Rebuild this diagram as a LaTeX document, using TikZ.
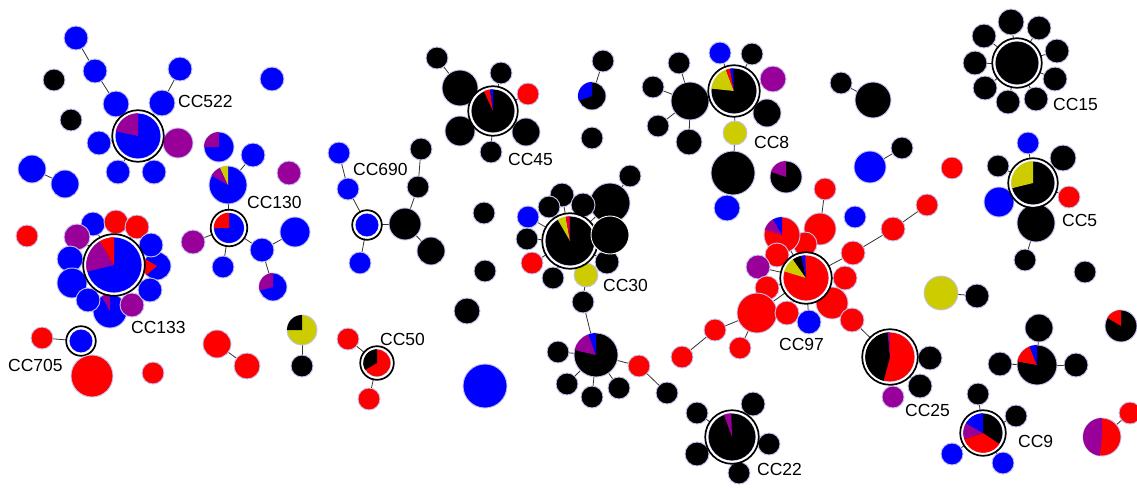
\documentclass[tikz,border=0pt]{standalone}
\usepackage{fontspec}
\setmainfont{Liberation Sans}
\pgfdeclarelayer{bg}
\pgfdeclarelayer{paper}
\pgfsetlayers{paper,bg,main}
\definecolor{cB}{HTML}{0000FF}
\definecolor{cR}{HTML}{FF0000}
\definecolor{cK}{HTML}{000000}
\definecolor{cP}{HTML}{990099}
\definecolor{cY}{HTML}{CCCC00}
\definecolor{halo}{HTML}{C4C4F2}
\tikzset{nd/.style={circle,draw=halo,line width=0.9pt,inner sep=0pt,outer sep=0pt},
 edge/.style={line width=0.8pt,black!80},
 lbl/.style={anchor=west,inner sep=0pt,font=\fontsize{17.5}{20}\selectfont}}
\newcommand\nd[5]{\node[nd,fill=#5,minimum size={2*#4pt}] (#1) at (#2,#3) {};}
\newcommand\pslice[5]{\fill[#5] (#1.center) -- ++({#3-90}:#2) arc[start angle={#3-90},end angle={#4-90},radius=#2] -- cycle;}
\newcommand\hubring[2]{\draw[white,line width=2pt] (#1.center) circle[radius={#2+1}];
 \draw[black,line width=1.7pt] (#1.center) circle[radius={#2+2.8}];}
\begin{document}
\begin{tikzpicture}[x=1pt,y=-1pt]
\begin{pgfonlayer}{paper}
\fill[white] (0,0) rectangle (1137,487);
\end{pgfonlayer}
\useasboundingbox (0,0) rectangle (1137,487);
% CC522
\nd{a1}{76}{38}{12}{cB}
\nd{a2}{95}{71}{12}{cB}
\nd{a3}{54}{80}{11}{cK}
\nd{a4}{180}{69}{12}{cB}
\nd{a5}{272}{79}{12}{cB}
\nd{a6}{116}{104}{13}{cB}
\nd{a7}{162}{103}{13}{cB}
\nd{a8}{71}{120}{11}{cK}
\nd{a9}{178}{143}{15}{cP}
\nd{a10}{99}{143}{12}{cB}
\nd{a11}{118}{172}{12}{cB}
\nd{a12}{154}{172}{12}{cB}
\nd{a13}{32}{169}{14}{cB}
\nd{a14}{65}{184}{14}{cB}
\nd{h522}{138}{136}{23}{cB}
\pslice{h522}{23}{282}{360}{cP}
\hubring{h522}{23}
\node[lbl] (L522) at (178,101) {CC522};
% CC130
\nd{b1}{219}{147}{15}{cB}
\pslice{b1}{15}{270}{360}{cP}
\nd{b2}{253}{155}{12}{cB}
\nd{b3}{228}{185}{19}{cB}
\pslice{b3}{19}{300}{335}{cP}
\pslice{b3}{19}{335}{360}{cY}
\nd{b4}{289}{173}{12}{cP}
\nd{h130}{229}{228}{15.5}{cB}
\pslice{h130}{15.5}{270}{360}{cR}
\hubring{h130}{15.5}
\nd{b5}{193}{242}{12}{cP}
\nd{b6}{223}{267}{11}{cB}
\nd{b7}{262}{250}{12}{cB}
\nd{b8}{295}{232}{15}{cB}
\nd{b9}{273}{287}{14}{cB}
\pslice{b9}{14}{255}{360}{cP}
\node[lbl] (L130) at (247,202) {CC130};
% CC133
\nd{c0}{27}{236}{11}{cR}
\nd{c1}{93}{224}{12}{cB}
\nd{c2}{116}{222}{12}{cR}
\nd{c3}{137}{227}{12}{cR}
\nd{c4}{77}{237}{13}{cP}
\nd{c5}{157}{266}{14}{cB}
\pslice{c5}{14}{230}{300}{cR}
\nd{c6}{151}{245}{12}{cB}
\nd{c7}{70}{259}{13}{cB}
\nd{c8}{72}{283}{15}{cB}
\nd{c9}{110}{311}{17}{cB}
\pslice{c9}{17}{330}{360}{cP}
\nd{c10}{88}{300}{12}{cB}
\nd{c11}{132}{305}{12}{cP}
\nd{c12}{150}{290}{12}{cB}
\nd{h133}{114}{265}{28}{cB}
\pslice{h133}{28}{256}{329}{cP}
\pslice{h133}{28}{329}{360}{cR}
\hubring{h133}{28}
\node[lbl] (L133) at (131,327) {CC133};
% CC705 and others
\nd{d1}{42}{338}{11}{cR}
\nd{h705}{81}{341}{12}{cB}
\hubring{h705}{12}
\node[lbl] (L705) at (8,365) {CC705};
\nd{d2}{92}{376}{21}{cR}
\nd{d3}{153}{373}{11}{cR}
\nd{e1}{217}{344}{14}{cR}
\nd{e2}{247}{366}{13}{cR}
\nd{e3}{302}{330}{15}{cY}
\pslice{e3}{15}{270}{360}{cK}
\nd{e4}{302}{366}{11}{cK}
% CC690
\nd{f1}{339}{153}{11}{cB}
\nd{f2}{348}{189}{11}{cB}
\nd{h690}{367}{225}{12}{cB}
\hubring{h690}{12}
\nd{f3}{421}{149}{11}{cK}
\nd{f4}{418}{187}{11}{cK}
\nd{f5}{405}{224}{16}{cK}
\nd{f6}{431}{251}{14}{cK}
\nd{f7}{360}{263}{11}{cB}
\node[lbl] (L690) at (353,169) {CC690};
\nd{g1}{484}{213}{11}{cK}
\nd{g2}{485}{271}{11}{cK}
\nd{g3}{467}{311}{13}{cK}
\nd{g4}{485}{386}{22}{cB}
% CC50
\nd{i1}{348}{339}{11}{cR}
\nd{h50}{377}{363}{14}{cR}
\pslice{h50}{14}{240}{360}{cK}
\hubring{h50}{14}
\nd{i2}{369}{399}{11}{cR}
\node[lbl] (L50) at (380,339) {CC50};
% CC45
\nd{j1}{437}{58}{11}{cK}
\nd{j2}{460}{88}{18}{cK}
\nd{j3}{501}{73}{11}{cK}
\nd{j4}{528}{94}{11}{cR}
\nd{j5}{460}{131}{15}{cK}
\nd{j6}{526}{132}{14}{cK}
\nd{j7}{491}{152}{11}{cK}
\nd{h45}{493}{111}{22}{cK}
\pslice{h45}{22}{335}{352}{cR}
\pslice{h45}{22}{352}{360}{cB}
\hubring{h45}{22}
\node[lbl] (L45) at (508,159) {CC45};
\nd{k1}{603}{61}{11}{cK}
\nd{k2}{592}{96}{14}{cK}
\pslice{k2}{14}{250}{360}{cB}
\nd{k3}{592}{138}{11}{cK}
% CC30
\nd{l1}{630}{176}{11}{cK}
\nd{l2}{610}{203}{20}{cK}
\nd{l3}{562}{195}{12}{cK}
\nd{l4}{583}{205}{12}{cK}
\nd{l5}{549}{207}{11}{cK}
\nd{l6}{528}{217}{11}{cB}
\nd{l7}{527}{239}{11}{cK}
\nd{l8}{532}{263}{11}{cR}
\nd{l9}{553}{278}{11}{cK}
\nd{l10}{607}{262}{12}{cK}
\nd{l11}{586}{275}{12}{cY}
\nd{h30}{570}{241}{25}{cK}
\pslice{h30}{25}{330}{350}{cY}
\pslice{h30}{25}{350}{357}{cR}
\pslice{h30}{25}{357}{360}{cP}
\hubring{h30}{25}
\node[nd,fill=cK,draw=white,minimum size=38pt] (l12) at (610,235) {};
\node[lbl] (L30) at (603,285) {CC30};
\nd{m1}{583}{302}{11}{cK}
\nd{m0}{596}{355}{22}{cK}
\pslice{m0}{22}{283}{340}{cP}
\pslice{m0}{22}{340}{360}{cB}
\nd{m2}{558}{352}{11}{cK}
\nd{m3}{567}{384}{11}{cK}
\nd{m4}{592}{397}{11}{cK}
\nd{m5}{619}{388}{11}{cK}
\nd{m6}{639}{366}{11}{cR}
\nd{m7}{667}{393}{11}{cK}
\nd{n1}{682}{357}{11}{cR}
\nd{n2}{715}{330}{11}{cR}
\nd{n4}{740}{348}{11}{cR}
% CC8
\nd{o1}{720}{53}{11}{cB}
\nd{o2}{752}{54}{11}{cK}
\nd{o3}{679}{63}{11}{cK}
\nd{o4}{653}{87}{11}{cK}
\nd{o5}{690}{101}{19}{cK}
\nd{o6}{773}{79}{13}{cP}
\nd{o7}{767}{113}{14}{cK}
\nd{o8}{658}{126}{11}{cK}
\nd{o9}{689}{142}{13}{cK}
\nd{h8}{734}{91}{23}{cK}
\pslice{h8}{23}{276}{339}{cY}
\pslice{h8}{23}{339}{350}{cR}
\pslice{h8}{23}{350}{358}{cB}
\hubring{h8}{23}
\nd{o10}{735}{133}{12}{cY}
\nd{o11}{733}{173}{22}{cK}
\nd{o12}{727}{208}{13}{cB}
\nd{o13}{786}{177}{16}{cK}
\pslice{o13}{16}{289}{360}{cP}
\node[lbl] (L8) at (754,142) {CC8};
\nd{p1}{841}{83}{11}{cK}
\nd{p2}{873}{100}{18}{cK}
\nd{p3}{902}{148}{11}{cK}
\nd{p4}{870}{167}{16}{cB}
% CC97
\nd{q1}{825}{189}{11}{cR}
\nd{q2}{820}{229}{16}{cR}
\nd{q3}{855}{217}{11}{cB}
\nd{q4}{893}{229}{12}{cR}
\nd{q5}{927}{205}{11}{cR}
\nd{q6}{952}{168}{11}{cR}
\nd{q7}{805}{244}{12}{cR}
\nd{q8}{782}{235}{18}{cR}
\pslice{q8}{18}{287}{330}{cP}
\pslice{q8}{18}{330}{360}{cB}
\nd{q9}{777}{255}{12}{cR}
\nd{q10}{758}{267}{12}{cP}
\nd{q11}{853}{253}{12}{cR}
\nd{q12}{845}{278}{12}{cR}
\nd{q13}{767}{288}{12}{cR}
\nd{n3}{757}{313}{20}{cR}
\nd{q14}{832}{303}{16}{cR}
\nd{q15}{852}{320}{12}{cR}
\nd{q16}{787}{313}{12}{cR}
\nd{q17}{809}{322}{12}{cB}
\nd{h97}{806}{278}{23}{cR}
\pslice{h97}{23}{287}{325}{cY}
\pslice{h97}{23}{325}{348}{cK}
\pslice{h97}{23}{348}{358}{cB}
\hubring{h97}{23}
\node[lbl] (L97) at (779,344) {CC97};
% CC25
\nd{r1}{930}{358}{12}{cK}
\nd{r2}{920}{386}{12}{cK}
\nd{r3}{893}{397}{11}{cP}
\nd{h25}{890}{357}{25}{cR}
\pslice{h25}{25}{195}{355}{cK}
\pslice{h25}{25}{355}{360}{cP}
\hubring{h25}{25}
\node[lbl] (L25) at (905,410) {CC25};
% CC22
\nd{s1}{697}{413}{11}{cK}
\nd{s2}{753}{404}{12}{cK}
\nd{s3}{769}{444}{11}{cK}
\nd{s4}{697}{454}{12}{cK}
\nd{s5}{739}{473}{11}{cK}
\nd{h22}{732}{437}{24}{cK}
\pslice{h22}{24}{340}{358}{cP}
\hubring{h22}{24}
\node[lbl] (L22) at (757,469) {CC22};
% CC15
\nd{t1}{1011}{22}{13}{cK}
\nd{t2}{1039}{28}{12}{cK}
\nd{t3}{1057}{51}{12}{cK}
\nd{t4}{1055}{79}{12}{cK}
\nd{t5}{1036}{99}{12}{cK}
\nd{t6}{1008}{102}{12}{cK}
\nd{t7}{985}{88}{12}{cK}
\nd{t8}{975}{63}{12}{cK}
\nd{t9}{984}{36}{12}{cK}
\nd{h15}{1017}{63}{22}{cK}
\hubring{h15}{22}
\node[lbl] (L15) at (1053,104) {CC15};
% CC5
\nd{u1}{1028}{143}{11}{cB}
\nd{u2}{998}{166}{11}{cK}
\nd{u3}{1063}{158}{13}{cK}
\nd{u4}{999}{202}{15}{cB}
\nd{u5}{1069}{197}{11}{cR}
\nd{u6}{1036}{223}{19}{cK}
\nd{u7}{1025}{260}{11}{cK}
\nd{h5}{1033}{183}{22}{cK}
\pslice{h5}{22}{256}{360}{cY}
\hubring{h5}{22}
\node[lbl] (L5) at (1062,220) {CC5};
\nd{v1}{1085}{272}{11}{cK}
\nd{v2}{941}{293}{17}{cY}
\nd{v3}{977}{296}{12}{cK}
\nd{v4}{1121}{326}{16}{cK}
\pslice{v4}{16}{301}{360}{cR}
\nd{w1}{1039}{328}{14}{cK}
\nd{w0}{1037}{365}{20}{cK}
\pslice{w0}{20}{280}{338}{cR}
\pslice{w0}{20}{338}{360}{cB}
\nd{w2}{1000}{364}{12}{cK}
\nd{w3}{1076}{365}{12}{cK}
% CC9
\nd{x1}{978}{394}{11}{cK}
\nd{x2}{1016}{416}{11}{cK}
\nd{x3}{952}{454}{11}{cB}
\nd{x4}{1003}{463}{11}{cB}
\nd{h9}{983}{433}{20}{cK}
\pslice{h9}{20}{124}{252}{cR}
\pslice{h9}{20}{252}{300}{cP}
\pslice{h9}{20}{300}{360}{cB}
\hubring{h9}{20}
\node[lbl] (L9) at (1018,441) {CC9};
\nd{y1}{1102}{437}{19}{cR}
\pslice{y1}{19}{187}{360}{cP}
\nd{y2}{1130}{413}{11}{cR}
% edges
\begin{pgfonlayer}{bg}
\foreach \u/\v in {a1/a2,a2/a6,a6/h522,a4/a7,a7/h522,a9/h522,a10/h522,a11/h522,a12/h522,a13/a14,
 b2/b3,b3/h130,h130/b5,h130/b6,h130/b7,b7/b8,b7/b9,
 h133/c1,h133/c2,h133/c3,h133/c4,h133/c6,h133/c7,h133/c12,
 d1/h705,e1/e2,e3/e4,
 f1/f2,f2/h690,h690/f5,h690/f7,f5/f4,f4/f3,f5/f6,
 i1/h50,h50/i2,
 j1/j2,j2/h45,h45/j3,h45/j4,h45/j5,h45/j6,h45/j7,k1/k2,
 l1/l2,l2/h30,h30/l3,h30/l4,h30/l5,h30/l6,h30/l7,h30/l8,h30/l9,h30/l10,h30/l11,h30/l12,
 l11/m1,m1/m0,m0/m2,m0/m3,m0/m4,m0/m5,m0/m6,m6/m7,
 n1/n2,n2/n3,n3/n4,n3/h97,
 o3/o5,o4/o5,o8/o5,o9/o5,o5/h8,h8/o1,h8/o2,h8/o6,h8/o7,h8/o10,o10/o11,o11/o12,
 p1/p2,p3/p4,
 q1/q2,q2/h97,q4/q5,q11/q4,h97/q11,h97/q7,h97/q8,h97/q9,h97/q10,h97/q12,h97/q13,h97/q14,h97/q16,h97/q17,q14/q15,q15/h25,
 h25/r1,h25/r2,h25/r3,
 h22/s1,h22/s2,h22/s3,h22/s4,h22/s5,
 h15/t1,h15/t2,h15/t3,h15/t4,h15/t5,h15/t6,h15/t7,h15/t8,h15/t9,
 h5/u1,h5/u2,h5/u3,h5/u4,h5/u5,h5/u6,u6/u7,
 v2/v3,w1/w0,w2/w0,w3/w0,
 h9/x1,h9/x2,h9/x3,h9/x4,y1/y2}
 \draw[edge] (\u) -- (\v);
\end{pgfonlayer}
\end{tikzpicture}
\end{document}
